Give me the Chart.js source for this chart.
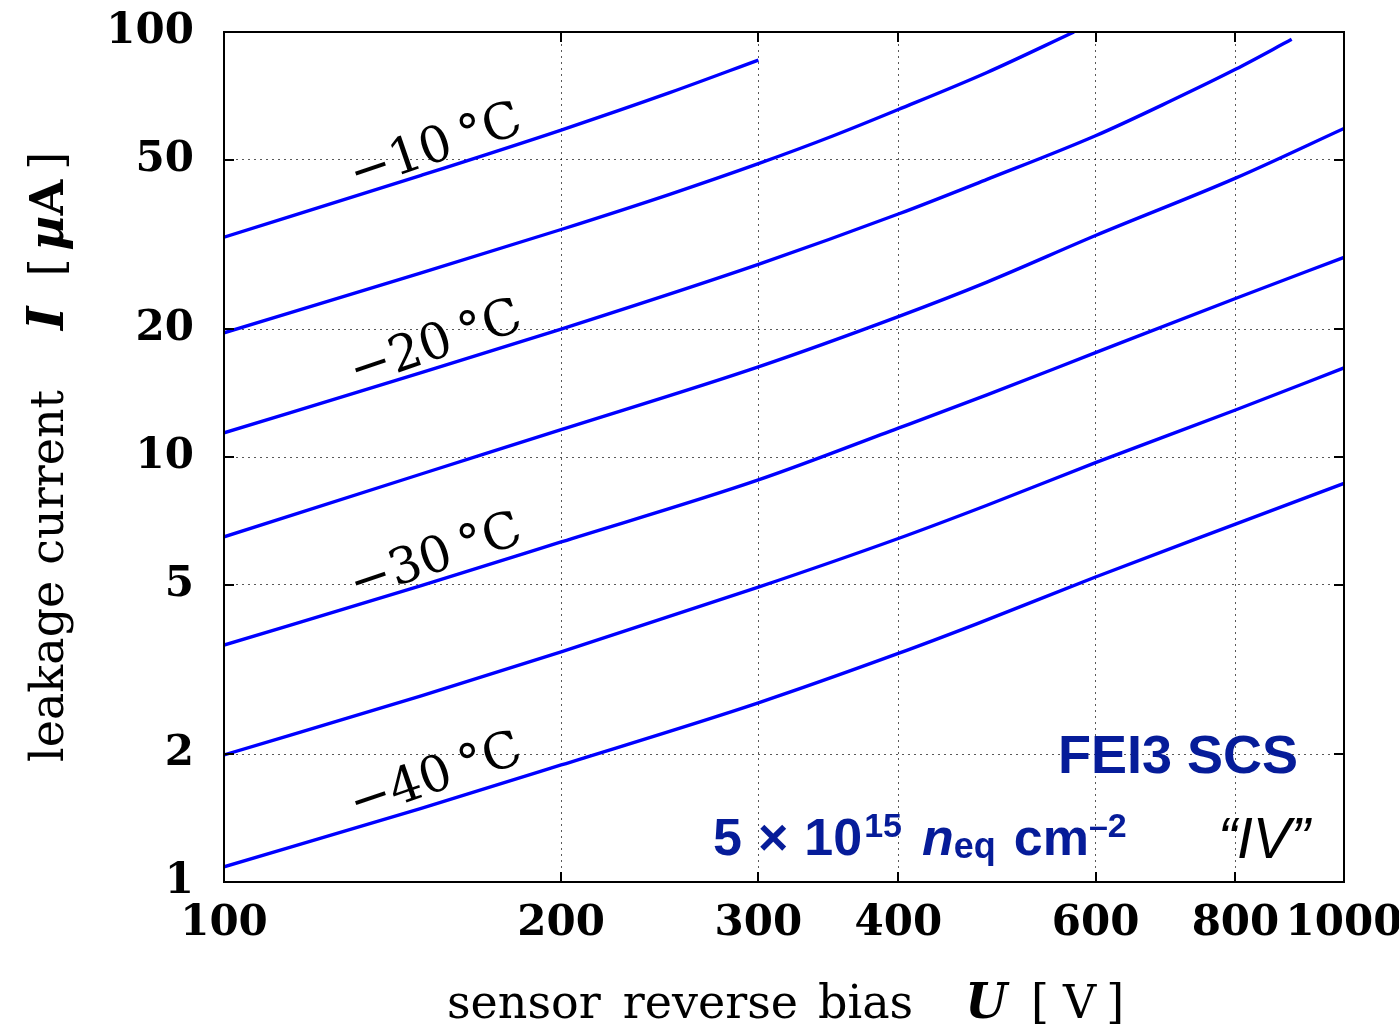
<!DOCTYPE html>
<html>
<head>
<meta charset="utf-8">
<script src="https://cdn.jsdelivr.net/npm/chart.js@4.4.1/dist/chart.umd.min.js"></script>
<style>
  html, body { margin: 0; padding: 0; background: #fff; }
  canvas { display: block; }
</style>
</head>
<body>
<canvas id="iv" width="1399" height="1029"></canvas>
<script>
// Axis ticks
const biasTicks = [100, 200, 300, 400, 600, 800, 1000];
const currentTicks = [1, 2, 5, 10, 20, 50, 100];

// Sensor temperatures (°C), one IV curve each
const temperatures = [-10, -15, -20, -25, -30, -35, -40];

// Bias voltage [V] and leakage current [µA] per temperature
const biasM10 = [100, 150, 200, 250, 300];
const currM10 = [32.9, 46.0, 58.8, 72.0, 85.9];

const biasM15 = [100, 150, 200, 250, 300, 350, 400, 480, 574];
const currM15 = [19.6, 27.1, 34.3, 41.5, 49.0, 57.0, 65.7, 80.3, 100];

const biasM20 = [100, 150, 200, 300, 400, 480, 600, 700, 800, 898];
const currM20 = [11.4, 15.8, 20.0, 28.4, 37.3, 45.0, 57.0, 68.8, 81.7, 96.1];

const biasM25 = [100, 150, 200, 300, 400, 480, 600, 800, 1000];
const currM25 = [6.49, 9.12, 11.6, 16.3, 21.4, 25.8, 33.2, 45.3, 59.3];

const biasM30 = [100, 150, 200, 300, 400, 480, 600, 800, 1000];
const currM30 = [3.61, 4.98, 6.31, 8.83, 11.69, 14.0, 17.6, 23.6, 29.5];

const biasM35 = [100, 150, 200, 300, 400, 480, 600, 800, 1000];
const currM35 = [1.99, 2.74, 3.48, 4.94, 6.43, 7.7, 9.7, 12.9, 16.2];

const biasM40 = [100, 150, 200, 300, 400, 470, 600, 800, 1000];
const currM40 = [1.086, 1.49, 1.885, 2.64, 3.45, 4.05, 5.22, 6.95, 8.67];

// Temperatures that get an in-plot label
const labelledTemps = [-10, -20, -30, -40];

const seriesBias = [biasM10, biasM15, biasM20, biasM25, biasM30, biasM35, biasM40];
const seriesCurr = [currM10, currM15, currM20, currM25, currM30, currM35, currM40];

const datasets = temperatures.map((t, i) => ({
  label: t + ' °C',
  data: seriesBias[i].map((v, j) => ({ x: v, y: seriesCurr[i][j] })),
  borderColor: '#0000ff',
  borderWidth: 3.4,
  pointRadius: 0,
  fill: false,
  cubicInterpolationMode: 'monotone'
}));

const SERIF = '"DejaVu Serif", "Liberation Serif", serif';
const SANS = '"Liberation Sans", Arial, sans-serif';
const NAVY = '#061c99';

function drawRuns(ctx, runs, x, y) {
  let cx = x;
  for (const r of runs) {
    if (r.gap) { cx += r.gap; continue; }
    ctx.font = r.font;
    ctx.fillStyle = r.color || '#000';
    ctx.fillText(r.text, cx, y + (r.dy || 0));
    cx += ctx.measureText(r.text).width;
  }
  return cx - x;
}

const decorations = {
  id: 'decorations',
  afterDatasetsDraw(chart) {
    const ctx = chart.ctx;
    const { left, right, top, bottom } = chart.chartArea;
    const xs = chart.scales.x, ys = chart.scales.y;
    ctx.save();

    // frame
    ctx.strokeStyle = '#000';
    ctx.lineWidth = 2;
    ctx.strokeRect(left, top, right - left, bottom - top);

    // inward tick marks on all four sides
    const tl = 10;
    ctx.beginPath();
    biasTicks.forEach(v => {
      const px = Math.round(xs.getPixelForValue(v));
      ctx.moveTo(px, bottom); ctx.lineTo(px, bottom - tl);
      ctx.moveTo(px, top); ctx.lineTo(px, top + tl);
    });
    currentTicks.forEach(v => {
      const py = Math.round(ys.getPixelForValue(v));
      ctx.moveTo(left, py); ctx.lineTo(left + tl, py);
      ctx.moveTo(right, py); ctx.lineTo(right - tl, py);
    });
    ctx.stroke();

    // temperature labels along the curves
    const labelBias = 156;
    const labelCurr = [49.7, 17.1, 5.39, 1.64];
    ctx.font = '50px ' + SERIF;
    ctx.fillStyle = '#000';
    ctx.textAlign = 'center';
    ctx.textBaseline = 'alphabetic';
    labelledTemps.forEach((t, i) => {
      const px = xs.getPixelForValue(labelBias);
      const py = ys.getPixelForValue(labelCurr[i]);
      ctx.save();
      ctx.translate(px, py);
      ctx.rotate(-19 * Math.PI / 180);
      ctx.fillText('\u2212' + Math.abs(t) + '\u2009°C', 0, 0);
      ctx.restore();
    });

    // sample annotation
    ctx.textAlign = 'right';
    ctx.font = 'bold 54px ' + SANS;
    ctx.fillStyle = NAVY;
    ctx.fillText('FEI3 SCS', 1298, 773);

    ctx.textAlign = 'left';
    drawRuns(ctx, [
      { text: '5', font: 'bold 52px ' + SANS, color: NAVY },
      { gap: 16 },
      { text: '×', font: 'bold 52px ' + SANS, color: NAVY },
      { gap: 16 },
      { text: '10', font: 'bold 52px ' + SANS, color: NAVY },
      { gap: 2 },
      { text: '15', font: 'bold 34px ' + SANS, color: NAVY, dy: -18 },
      { gap: 20 },
      { text: 'n', font: 'italic bold 52px ' + SANS, color: NAVY },
      { text: 'eq', font: 'bold 36px ' + SANS, color: NAVY, dy: 3 },
      { gap: 18 },
      { text: 'cm', font: 'bold 52px ' + SANS, color: NAVY },
      { text: '\u20132', font: 'bold 34px ' + SANS, color: NAVY, dy: -18 }
    ], 713, 855);

    ctx.font = 'italic 57px ' + SANS;
    ctx.fillStyle = '#000';
    ctx.fillText('\u201CIV\u201D', 1218, 858);

    // x axis title
    drawRuns(ctx, [
      { text: 'sensor', font: '46px ' + SERIF },
      { gap: 22 },
      { text: 'reverse', font: '46px ' + SERIF },
      { gap: 20 },
      { text: 'bias', font: '46px ' + SERIF },
      { gap: 52 },
      { text: 'U', font: 'italic bold 48px ' + SERIF },
      { gap: 24 },
      { text: '[', font: '46px ' + SERIF },
      { gap: 14 },
      { text: 'V', font: '46px ' + SERIF },
      { gap: 10 },
      { text: ']', font: '46px ' + SERIF }
    ], 447, 1018);

    // y axis title
    ctx.save();
    ctx.translate(63, 762);
    ctx.rotate(-Math.PI / 2);
    drawRuns(ctx, [
      { text: 'leakage', font: '46px ' + SERIF },
      { gap: 16 },
      { text: 'current', font: '46px ' + SERIF },
      { gap: 60 },
      { text: 'I', font: 'italic bold 50px ' + SERIF },
      { gap: 30 },
      { text: '[', font: '46px ' + SERIF },
      { gap: 8 },
      { text: 'µ', font: 'italic bold 48px ' + SERIF },
      { text: 'A', font: 'bold 46px ' + SERIF },
      { gap: 10 },
      { text: ']', font: '46px ' + SERIF }
    ], 0, 0);
    ctx.restore();

    ctx.restore();
  }
};

const gridStyle = {
  color: 'rgba(0,0,0,0.65)',
  lineWidth: 1,
  drawTicks: false
};

new Chart(document.getElementById('iv'), {
  type: 'line',
  data: { datasets },
  options: {
    responsive: false,
    animation: false,
    devicePixelRatio: 1,
    layout: { padding: { top: 32, right: 55, left: 0, bottom: 0 } },
    plugins: { legend: { display: false }, tooltip: { enabled: false } },
    scales: {
      x: {
        type: 'logarithmic',
        min: 100, max: 1000,
        border: { display: false, dash: [2, 4] },
        grid: gridStyle,
        afterBuildTicks: s => { s.ticks = biasTicks.map(v => ({ value: v })); },
        afterFit: s => { s.height = 1029 - 882; s.paddingLeft = 0; s.paddingRight = 0; },
        ticks: {
          autoSkip: false, maxRotation: 0, padding: 17,
          color: '#000',
          font: { family: SERIF, weight: 'bold', size: 42 },
          callback: v => String(v)
        }
      },
      y: {
        type: 'logarithmic',
        min: 1, max: 100,
        border: { display: false, dash: [2, 4] },
        grid: gridStyle,
        afterBuildTicks: s => { s.ticks = currentTicks.map(v => ({ value: v })); },
        afterFit: s => { s.width = 224; s.paddingTop = 0; s.paddingBottom = 0; },
        ticks: {
          padding: 30,
          color: '#000',
          font: { family: SERIF, weight: 'bold', size: 42 },
          callback: v => String(v)
        }
      }
    }
  },
  plugins: [decorations]
});
</script>
</body>
</html>
